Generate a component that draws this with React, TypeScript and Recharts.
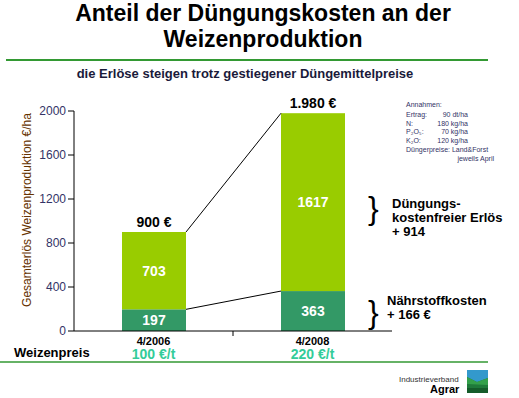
import React from "react";
import { BarChart, Bar, XAxis, YAxis, LabelList } from "recharts";

const periods = ["4/2006", "4/2008"];
const prices = ["100 €/t", "220 €/t"];
const nutrientCosts = [197, 363];
const netRevenue = [703, 1617];
const totals = ["900 €", "1.980 €"];
const yTicks = [0, 400, 800, 1200, 1600, 2000];

const assumptions = [
  ["Ertrag:", "90 dt/ha"],
  ["N:", "180 kg/ha"],
  ["P₂O₅:", "70 kg/ha"],
  ["K₂O:", "120 kg/ha"],
];

const data = periods.map((p, i) => ({
  period: p,
  cost: nutrientCosts[i],
  net: netRevenue[i],
  total: totals[i],
}));

const FONT = "'Liberation Sans', Arial, sans-serif";

// bar corners from the previous category, so the connector lines can be drawn
const corners: Record<string, { x: number; y: number; w: number }[]> = { cost: [], net: [] };

function makeShape(key: string, fill: string) {
  return (props: any) => {
    const { x, y, width, height, index } = props;
    corners[key][index] = { x, y, w: width };
    const prev = index > 0 ? corners[key][index - 1] : null;
    return (
      <g>
        <rect x={x} y={y} width={width} height={height} fill={fill} />
        {prev && (
          <line x1={prev.x + prev.w} y1={prev.y} x2={x} y2={y} stroke="#000" strokeWidth={1} />
        )}
      </g>
    );
  };
}

function PeriodTick(props: any) {
  const { x, y, payload, index } = props;
  const half = payload?.offset ?? 0;
  return (
    <g>
      <text x={x} y={y + 14} textAnchor="middle" fontWeight="bold" fontSize={11} fill="#000">
        {payload.value}
      </text>
      <text x={x} y={y + 28} textAnchor="middle" fontWeight="bold" fontSize={14} fill="#33CC99">
        {prices[index]}
      </text>
      {index < periods.length - 1 && half > 0 && (
        <line x1={x + half} x2={x + half} y1={y} y2={y + 5} stroke="#000" />
      )}
    </g>
  );
}

export default function App() {
  return (
    <div
      style={{
        position: "absolute",
        left: 0,
        top: 0,
        width: 519,
        height: 398,
        background: "#fff",
        fontFamily: FONT,
      }}
    >
      <BarChart
        width={519}
        height={398}
        data={data}
        margin={{ top: 111, right: 127, bottom: 37, left: 0 }}
        barSize={64}
      >
        <XAxis
          dataKey="period"
          height={30}
          axisLine={{ stroke: "#000" }}
          tickLine={false}
          tickSize={0}
          tickMargin={0}
          tick={<PeriodTick />}
        />
        <YAxis
          width={74}
          domain={[0, 2000]}
          ticks={yTicks}
          interval={0}
          axisLine={{ stroke: "#000" }}
          tickLine={{ stroke: "#000" }}
          tickSize={6}
          tickMargin={2}
          tick={{ fill: "#333366", fontSize: 12, fontFamily: FONT }}
        />
        <Bar dataKey="cost" stackId="a" isAnimationActive={false} shape={makeShape("cost", "#339966")}>
          <LabelList dataKey="cost" position="center" fill="#fff" fontWeight="bold" fontSize={14} />
        </Bar>
        <Bar dataKey="net" stackId="a" isAnimationActive={false} shape={makeShape("net", "#99CC00")}>
          <LabelList dataKey="net" position="center" fill="#fff" fontWeight="bold" fontSize={14} />
          <LabelList dataKey="total" position="top" offset={5} fill="#000" fontWeight="bold" fontSize={14} />
        </Bar>
      </BarChart>

      <svg
        width={519}
        height={398}
        style={{ position: "absolute", left: 0, top: 0, pointerEvents: "none" }}
        fontFamily={FONT}
      >
        <text x={263} y={21} textAnchor="middle" fontSize={23} fontWeight="bold" fill="#000">
          Anteil der Düngungskosten an der
        </text>
        <text x={263} y={47} textAnchor="middle" fontSize={23} fontWeight="bold" fill="#000">
          Weizenproduktion
        </text>
        <line x1={6} x2={488} y1={60} y2={60} stroke="#339933" strokeWidth={2} />
        <text x={245} y={78} textAnchor="middle" fontSize={13} fontWeight="bold" fill="#1a1a3a">
          die Erlöse steigen trotz gestiegener Düngemittelpreise
        </text>

        <text
          transform="translate(31,210) rotate(-90)"
          textAnchor="middle"
          fontSize={12}
          fill="#663300"
        >
          Gesamterlös Weizenproduktion €/ha
        </text>

        <g fontSize={7} fill="#333366">
          <text x={406} y={107}>Annahmen:</text>
          {assumptions.map(([k, v], i) => (
            <g key={k}>
              <text x={406} y={117 + i * 8.7}>{k}</text>
              <text x={468} y={117 + i * 8.7} textAnchor="end">{v}</text>
            </g>
          ))}
          <text x={406} y={152}>Düngerpreise: Land&amp;Forst</text>
          <text x={494} y={161} textAnchor="end">jeweils April</text>
        </g>

        <text x={368} y={219} fontSize={32} fill="#000">{"}"}</text>
        <g fontSize={13} fontWeight="bold" fill="#000">
          <text x={392} y={208}>Düngungs-</text>
          <text x={392} y={222}>kostenfreier Erlös</text>
          <text x={392} y={236}>+ 914</text>
        </g>
        <text x={368} y={323} fontSize={32} fill="#000">{"}"}</text>
        <g fontSize={13} fontWeight="bold" fill="#000">
          <text x={387} y={305}>Nährstoffkosten</text>
          <text x={387} y={319}>+ 166 €</text>
        </g>

        <text x={14} y={357} fontSize={13} fontWeight="bold" fill="#000">Weizenpreis</text>
        <line x1={0} x2={488} y1={362} y2={362} stroke="#339933" strokeWidth={1.5} />

        <text x={399} y={382} fontSize={8} fill="#333">Industrieverband</text>
        <text x={430} y={393} fontSize={11} fontWeight="bold" fill="#000">Agrar</text>
        <rect x={467} y={370} width={21} height={23} fill="#1f7a3a" />
        <polygon points="467,370 488,370 488,378 477,382 467,377" fill="#3399cc" />
        <polygon points="467,377 477,382 488,378 488,385 467,384" fill="#33a04a" />
        <rect x={467} y={388} width={21} height={5} fill="#155c2a" />
      </svg>
    </div>
  );
}
